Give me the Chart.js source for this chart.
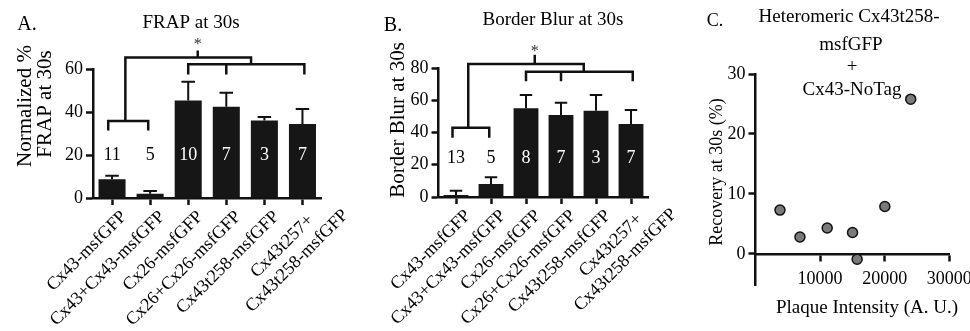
<!DOCTYPE html>
<html>
<head>
<meta charset="utf-8">
<script src="https://cdn.jsdelivr.net/npm/chart.js@4.4.1/dist/chart.umd.min.js"></script>
<style>
body { margin: 0; background: #fff; }
#wrap { position: relative; width: 970px; height: 331px; overflow: hidden; background: #fff; }
canvas { position: absolute; top: 0; }
</style>
</head>
<body>
<div id="wrap">
  <canvas id="chartA" width="380" height="331" style="left:0px"></canvas>
  <canvas id="chartB" width="370" height="331" style="left:330px"></canvas>
  <canvas id="chartC" width="310" height="331" style="left:660px"></canvas>
</div>
<script>
// categories shared by panels A and B
const categories = ['Cx43-msfGFP', 'Cx43+Cx43-msfGFP', 'Cx26-msfGFP', 'Cx26+Cx26-msfGFP', 'Cx43t258-msfGFP', ['Cx43t257+', 'Cx43t258-msfGFP']];

// A. FRAP at 30s
const frapMeans = [8.7, 2.0, 45.3, 42.5, 36.1, 34.4];
const frapErr = [1.7, 1.3, 8.8, 6.5, 1.6, 7.0];
const frapN = [11, 5, 10, 7, 3, 7];
const frapTicks = [0, 20, 40, 60];

// B. Border blur at 30s
const blurMeans = [1.2, 8.1, 55.0, 50.9, 53.5, 45.3];
const blurErr = [2.7, 4.1, 8.3, 7.6, 9.8, 8.7];
const blurN = [13, 5, 8, 7, 3, 7];
const blurTicks = [0, 20, 40, 60, 80];

// C. plaque intensity vs recovery
const plaqueX = [3790, 6880, 11100, 15020, 15730, 20020, 24030];
const recoveryY = [7.3, 2.8, 4.3, 3.55, -0.9, 7.9, 25.8];
const plaqueTicks = [10000, 20000, 30000];
const recoveryTicks = [0, 10, 20, 30];

// significance brackets (category index / value units)
const frapSig = { pair: [-0.1, 0.95], pairY: 35.8, pairDrop: 32, group: [2, 5.05], groupMid: 3, groupY: 62.2, groupDrop: 58, top: [0.35, 3.65], topMid: 2.25, topY: 65.3, topRise: 68, starY: 72.7, countY: 20 };
const blurSig = { pair: [-0.1, 0.95], pairY: 43, pairDrop: 37.5, group: [2, 5.05], groupMid: 3, groupY: 77.7, groupDrop: 72.6, top: [0.35, 3.65], topMid: 2.25, topY: 82.5, topRise: 87.4, starY: 92.2, countY: 24.2 };

Chart.defaults.font.family = "'Liberation Serif', 'Times New Roman', serif";
Chart.defaults.color = '#000';

const FONT = "'Liberation Serif', 'Times New Roman', serif";

// free text (titles, panel letters, axis titles)
function textPlugin(items, offsetX) {
    return {
        id: 'texts',
        afterDraw(chart) {
            const ctx = chart.ctx;
            ctx.save();
            ctx.fillStyle = '#000';
            ctx.textAlign = 'center';
            ctx.textBaseline = 'middle';
            items.forEach(t => {
                ctx.save();
                ctx.font = t[3] + 'px ' + FONT;
                ctx.translate(t[1] - offsetX, t[2]);
                if (t[4]) ctx.rotate(t[4] * Math.PI / 180);
                ctx.fillText(t[0], 0, 0);
                ctx.restore();
            });
            ctx.restore();
        }
    };
}

// slanted category labels, lines of a label centred on each other
const slantLabels = {
    id: 'slantLabels',
    afterDraw(chart) {
        const ctx = chart.ctx;
        const x = chart.scales.x;
        ctx.save();
        ctx.fillStyle = '#000';
        ctx.font = '18px ' + FONT;
        ctx.textBaseline = 'middle';
        ctx.textAlign = 'center';
        categories.forEach((lab, i) => {
            const lines = Array.isArray(lab) ? lab : [lab];
            const w0 = ctx.measureText(lines[0]).width;
            const c = lines.length > 1 ? -5 - w0 / 2 : -w0 / 2;
            ctx.save();
            ctx.translate(x.getPixelForValue(i) + 12, x.top + 16);
            ctx.rotate(-Math.PI / 4);
            lines.forEach((ln, k) => ctx.fillText(ln, c, k * 21));
            ctx.restore();
        });
        ctx.restore();
    }
};

// error bars, n counts, brackets
function barExtras(means, errs, counts, sig) {
    return {
        id: 'barExtras',
        afterDatasetsDraw(chart) {
            const ctx = chart.ctx;
            const x = chart.scales.x, y = chart.scales.y;
            const meta = chart.getDatasetMeta(0);
            ctx.save();
            ctx.strokeStyle = '#111';
            ctx.lineWidth = 2;
            meta.data.forEach((bar, i) => {
                const top = y.getPixelForValue(means[i]);
                const cap = y.getPixelForValue(means[i] + errs[i]);
                const half = bar.width * 0.25;
                ctx.beginPath();
                ctx.moveTo(bar.x, top);
                ctx.lineTo(bar.x, cap);
                ctx.moveTo(bar.x - half, cap);
                ctx.lineTo(bar.x + half, cap);
                ctx.stroke();
            });

            // n per bar
            ctx.font = '18px ' + FONT;
            ctx.textAlign = 'center';
            ctx.textBaseline = 'middle';
            meta.data.forEach((bar, i) => {
                ctx.fillStyle = means[i] > sig.countY + 5 ? '#fff' : '#000';
                ctx.fillText(String(counts[i]), bar.x, y.getPixelForValue(sig.countY));
            });

            // brackets
            const px = v => x.getPixelForValue(v);
            const py = v => y.getPixelForValue(v);
            ctx.lineWidth = 2.5;
            ctx.strokeStyle = '#111';
            ctx.lineCap = 'square';
            ctx.beginPath();
            // pair bracket
            ctx.moveTo(px(sig.pair[0]), py(sig.pairDrop));
            ctx.lineTo(px(sig.pair[0]), py(sig.pairY));
            ctx.lineTo(px(sig.pair[1]), py(sig.pairY));
            ctx.lineTo(px(sig.pair[1]), py(sig.pairDrop));
            // group bracket
            ctx.moveTo(px(sig.group[0]), py(sig.groupDrop));
            ctx.lineTo(px(sig.group[0]), py(sig.groupY));
            ctx.lineTo(px(sig.group[1]), py(sig.groupY));
            ctx.lineTo(px(sig.group[1]), py(sig.groupDrop));
            ctx.moveTo(px(sig.groupMid), py(sig.groupY));
            ctx.lineTo(px(sig.groupMid), py(sig.groupDrop));
            // top bracket linking both
            ctx.moveTo(px(sig.top[0]), py(sig.pairY));
            ctx.lineTo(px(sig.top[0]), py(sig.topY));
            ctx.lineTo(px(sig.top[1]), py(sig.topY));
            ctx.lineTo(px(sig.top[1]), py(sig.groupY));
            ctx.moveTo(px(sig.topMid), py(sig.topY));
            ctx.lineTo(px(sig.topMid), py(sig.topRise));
            ctx.stroke();

            ctx.fillStyle = '#333';
            ctx.font = '16px ' + FONT;
            ctx.fillText('*', px(sig.topMid), py(sig.starY) + 3);
            ctx.restore();
        }
    };
}

function makeBarChart(id, offsetX, means, errs, counts, ticks, area, sig, texts) {
    const canvas = document.getElementById(id);
    const W = canvas.width, H = canvas.height;
    return new Chart(canvas, {
        type: 'bar',
        data: {
            labels: categories,
            datasets: [{
                data: means,
                backgroundColor: '#161616',
                borderWidth: 0,
                barPercentage: 0.71,
                categoryPercentage: 1
            }]
        },
        options: {
            responsive: false,
            animation: false,
            devicePixelRatio: 1,
            layout: { padding: { left: 0, top: area.top, right: W - (area.right - offsetX), bottom: 0 } },
            plugins: { legend: { display: false }, tooltip: { enabled: false } },
            scales: {
                x: {
                    grid: { drawOnChartArea: false, offset: false, tickLength: 7, tickWidth: 2.5, tickColor: '#111' },
                    border: { display: true, color: '#111', width: 2.5 },
                    ticks: { display: false },
                    afterFit: s => { s.height = H - area.bottom; s.paddingLeft = 0; s.paddingRight = 0; }
                },
                y: {
                    min: ticks[0],
                    max: ticks[ticks.length - 1],
                    afterBuildTicks: s => { s.ticks = ticks.map(v => ({ value: v })); },
                    grid: { drawOnChartArea: false, tickLength: 7, tickWidth: 2.5, tickColor: '#111' },
                    border: { display: true, color: '#111', width: 2.5 },
                    ticks: { font: { size: 18 }, padding: 3 },
                    afterFit: s => { s.width = area.left - offsetX; }
                }
            }
        },
        plugins: [barExtras(means, errs, counts, sig), slantLabels, textPlugin(texts, offsetX)]
    });
}

makeBarChart('chartA', 0, frapMeans, frapErr, frapN, frapTicks,
    { left: 93, right: 321.5, top: 69, bottom: 198 }, frapSig,
    [['A.', 27, 25, 20], ['FRAP at 30s', 191, 23, 19],
     ['Normalized %', 25, 106, 21, -90], ['FRAP at 30s', 45, 104, 21, -90]]);

makeBarChart('chartB', 330, blurMeans, blurErr, blurN, blurTicks,
    { left: 438.5, right: 648.5, top: 68, bottom: 197 }, blurSig,
    [['B.', 393, 26, 20], ['Border Blur at 30s', 553, 20, 19],
     ['Border Blur at 30s', 398, 120, 21, -90]]);

// panel C
(function () {
    const canvas = document.getElementById('chartC');
    const offsetX = 660;
    const W = canvas.width, H = canvas.height;
    const points = plaqueX.map((v, i) => ({ x: v, y: recoveryY[i] }));
    new Chart(canvas, {
        type: 'scatter',
        data: {
            datasets: [{
                data: points,
                pointRadius: 5,
                pointBackgroundColor: '#7a7a7a',
                pointBorderColor: '#111',
                pointBorderWidth: 1.5
            }]
        },
        options: {
            responsive: false,
            animation: false,
            devicePixelRatio: 1,
            layout: { padding: { left: 0, top: 74, right: W - (949.3 - offsetX), bottom: H - 285 } },
            plugins: { legend: { display: false }, tooltip: { enabled: false } },
            scales: {
                x: {
                    type: 'linear',
                    position: { y: 0 },
                    min: 0,
                    max: 30000,
                    afterBuildTicks: s => { s.ticks = plaqueTicks.map(v => ({ value: v })); },
                    grid: { drawOnChartArea: false, tickLength: 6, tickWidth: 2.5, tickColor: '#111' },
                    border: { display: true, color: '#111', width: 2.5 },
                    ticks: { font: { size: 18 }, padding: 9, autoSkip: false, maxRotation: 0, callback: v => String(v) },
                    afterFit: s => { s.height = 0; s.paddingLeft = 0; s.paddingRight = 0; }
                },
                y: {
                    min: -5.2,
                    max: 30,
                    afterBuildTicks: s => { s.ticks = recoveryTicks.map(v => ({ value: v })); },
                    grid: { drawOnChartArea: false, tickLength: 7, tickWidth: 2.5, tickColor: '#111' },
                    border: { display: true, color: '#111', width: 2.5 },
                    ticks: { font: { size: 18 }, padding: 3 },
                    afterFit: s => { s.width = 755.5 - offsetX; }
                }
            }
        },
        plugins: [textPlugin([
            ['C.', 715, 21, 18],
            ['Heteromeric Cx43t258-', 849, 17, 19],
            ['msfGFP', 851, 45, 19],
            ['+', 852, 67, 19],
            ['Cx43-NoTag', 852, 90, 19],
            ['Recovery at 30s (%)', 717, 172, 18, -90],
            ['Plaque Intensity (A. U.)', 867, 308, 19]
        ], offsetX)]
    });
})();
</script>
</body>
</html>
